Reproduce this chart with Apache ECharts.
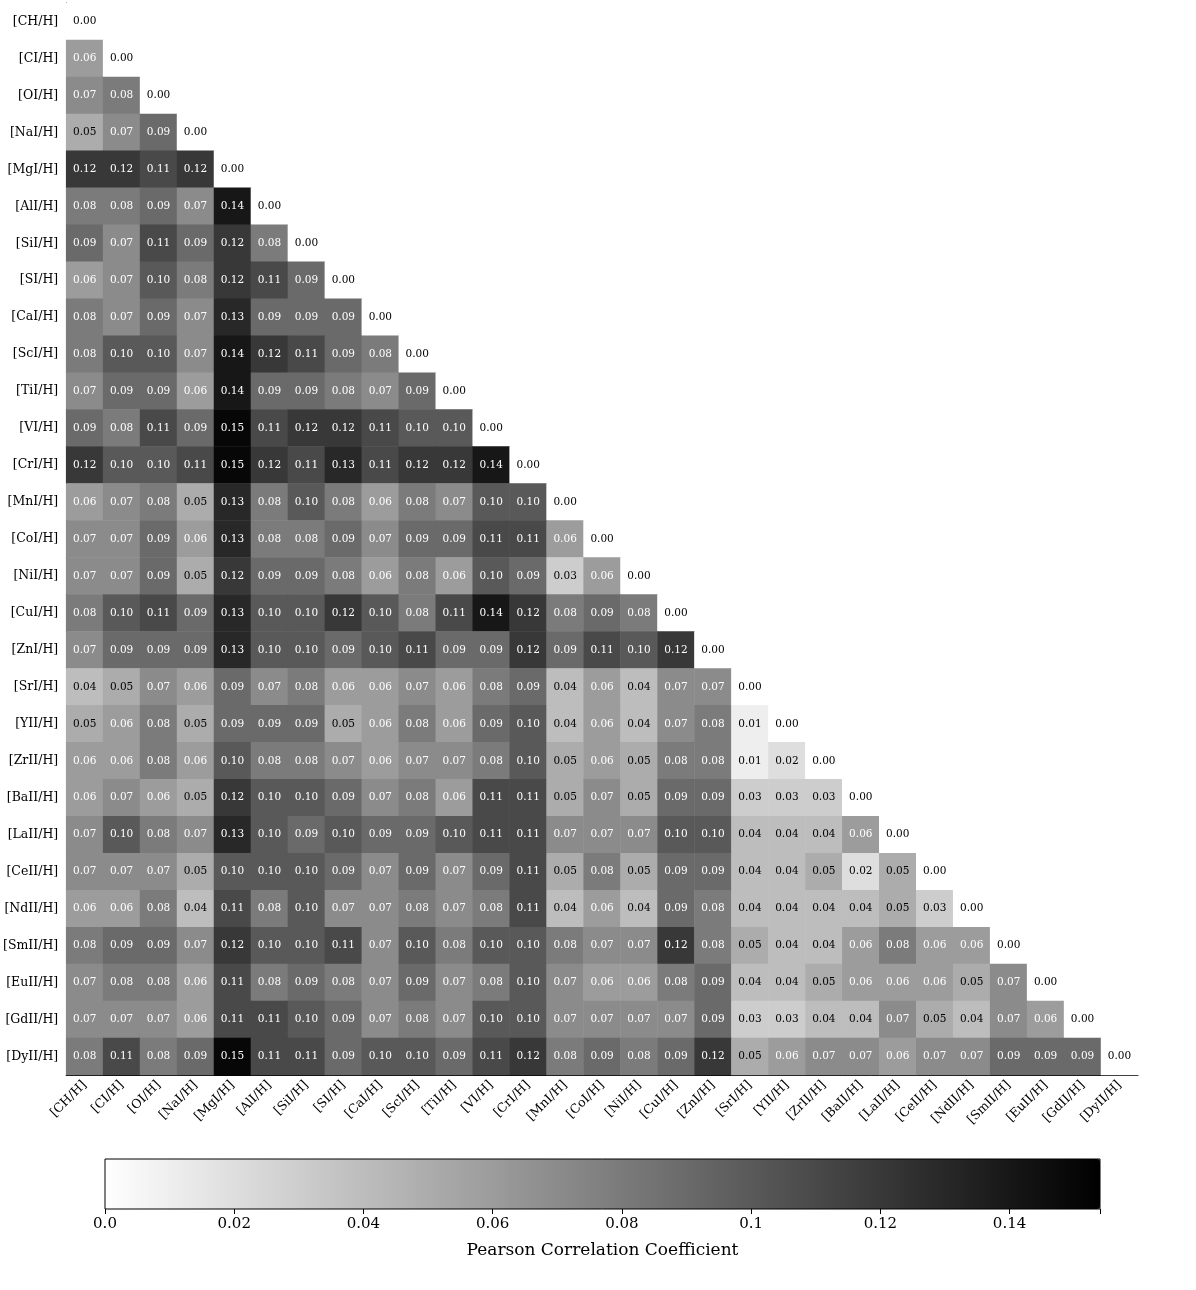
<!DOCTYPE html>
<html lang="en">
<head>
<meta charset="UTF-8">
<title>Pearson Correlation Heatmap</title>
<script src="https://cdn.jsdelivr.net/npm/echarts@6/dist/echarts.min.js"></script>
<style>html,body{margin:0;padding:0;background:#fff;}</style>
</head>
<body>
<div id="main" style="width:1196px;height:1290px;"></div>
<script>
var elements = ['[CH/H]','[CI/H]','[OI/H]','[NaI/H]','[MgI/H]','[AlI/H]','[SiI/H]','[SI/H]','[CaI/H]','[ScI/H]',
  '[TiI/H]','[VI/H]','[CrI/H]','[MnI/H]','[CoI/H]','[NiI/H]','[CuI/H]','[ZnI/H]','[SrI/H]','[YII/H]',
  '[ZrII/H]','[BaII/H]','[LaII/H]','[CeII/H]','[NdII/H]','[SmII/H]','[EuII/H]','[GdII/H]','[DyII/H]'];

// lower triangle, row i has i+1 values
var rows = [
  [0],
  [0.06,0],
  [0.07,0.08,0],
  [0.05,0.07,0.09,0],
  [0.12,0.12,0.11,0.12,0],
  [0.08,0.08,0.09,0.07,0.14,0],
  [0.09,0.07,0.11,0.09,0.12,0.08,0],
  [0.06,0.07,0.10,0.08,0.12,0.11,0.09,0],
  [0.08,0.07,0.09,0.07,0.13,0.09,0.09,0.09,0],
  [0.08,0.10,0.10,0.07,0.14,0.12,0.11,0.09,0.08,0],
  [0.07,0.09,0.09,0.06,0.14,0.09,0.09,0.08,0.07,0.09,0],
  [0.09,0.08,0.11,0.09,0.15,0.11,0.12,0.12,0.11,0.10,0.10,0],
  [0.12,0.10,0.10,0.11,0.15,0.12,0.11,0.13,0.11,0.12,0.12,0.14,0],
  [0.06,0.07,0.08,0.05,0.13,0.08,0.10,0.08,0.06,0.08,0.07,0.10,0.10,0],
  [0.07,0.07,0.09,0.06,0.13,0.08,0.08,0.09,0.07,0.09,0.09,0.11,0.11,0.06,0],
  [0.07,0.07,0.09,0.05,0.12,0.09,0.09,0.08,0.06,0.08,0.06,0.10,0.09,0.03,0.06,0],
  [0.08,0.10,0.11,0.09,0.13,0.10,0.10,0.12,0.10,0.08,0.11,0.14,0.12,0.08,0.09,0.08,0],
  [0.07,0.09,0.09,0.09,0.13,0.10,0.10,0.09,0.10,0.11,0.09,0.09,0.12,0.09,0.11,0.10,0.12,0],
  [0.04,0.05,0.07,0.06,0.09,0.07,0.08,0.06,0.06,0.07,0.06,0.08,0.09,0.04,0.06,0.04,0.07,0.07,0],
  [0.05,0.06,0.08,0.05,0.09,0.09,0.09,0.05,0.06,0.08,0.06,0.09,0.10,0.04,0.06,0.04,0.07,0.08,0.01,0],
  [0.06,0.06,0.08,0.06,0.10,0.08,0.08,0.07,0.06,0.07,0.07,0.08,0.10,0.05,0.06,0.05,0.08,0.08,0.01,0.02,0],
  [0.06,0.07,0.06,0.05,0.12,0.10,0.10,0.09,0.07,0.08,0.06,0.11,0.11,0.05,0.07,0.05,0.09,0.09,0.03,0.03,0.03,0],
  [0.07,0.10,0.08,0.07,0.13,0.10,0.09,0.10,0.09,0.09,0.10,0.11,0.11,0.07,0.07,0.07,0.10,0.10,0.04,0.04,0.04,0.06,0],
  [0.07,0.07,0.07,0.05,0.10,0.10,0.10,0.09,0.07,0.09,0.07,0.09,0.11,0.05,0.08,0.05,0.09,0.09,0.04,0.04,0.05,0.02,0.05,0],
  [0.06,0.06,0.08,0.04,0.11,0.08,0.10,0.07,0.07,0.08,0.07,0.08,0.11,0.04,0.06,0.04,0.09,0.08,0.04,0.04,0.04,0.04,0.05,0.03,0],
  [0.08,0.09,0.09,0.07,0.12,0.10,0.10,0.11,0.07,0.10,0.08,0.10,0.10,0.08,0.07,0.07,0.12,0.08,0.05,0.04,0.04,0.06,0.08,0.06,0.06,0],
  [0.07,0.08,0.08,0.06,0.11,0.08,0.09,0.08,0.07,0.09,0.07,0.08,0.10,0.07,0.06,0.06,0.08,0.09,0.04,0.04,0.05,0.06,0.06,0.06,0.05,0.07,0],
  [0.07,0.07,0.07,0.06,0.11,0.11,0.10,0.09,0.07,0.08,0.07,0.10,0.10,0.07,0.07,0.07,0.07,0.09,0.03,0.03,0.04,0.04,0.07,0.05,0.04,0.07,0.06,0],
  [0.08,0.11,0.08,0.09,0.15,0.11,0.11,0.09,0.10,0.10,0.09,0.11,0.12,0.08,0.09,0.08,0.09,0.12,0.05,0.06,0.07,0.07,0.06,0.07,0.07,0.09,0.09,0.09,0]
];
var colorMax = 0.154;
var cbTicks = [0, 0.02, 0.04, 0.06, 0.08, 0.1, 0.12, 0.14];

var font = 'DejaVu Serif';
var data = [];
rows.forEach(function (r, i) {
  r.forEach(function (v, j) {
    data.push({
      value: [j, i, v],
      label: { color: v > 0.055 ? '#ffffff' : '#000000' }
    });
  });
});

var myChart = echarts.init(document.getElementById('main'));
myChart.setOption({
  animation: false,
  textStyle: { fontFamily: font },
  grid: [
    { left: 66, top: 3, width: 1072, height: 1072 },
    { left: 105, top: 1159, width: 995, height: 50 }
  ],
  xAxis: [{
    gridIndex: 0,
    type: 'category',
    data: elements,
    axisLine: { lineStyle: { color: '#000' } },
    axisTick: { alignWithLabel: true, lineStyle: { color: '#000' } },
    axisLabel: { rotate: 45, interval: 0, color: '#000', fontFamily: font, fontSize: 12.5, margin: 8 },
    splitArea: { show: false }
  }, {
    gridIndex: 1,
    type: 'value',
    min: 0,
    max: colorMax,
    interval: 0.02,
    axisLine: { show: false },
    axisTick: { show: true, length: 5, lineStyle: { color: '#000' } },
    axisLabel: {
      color: '#000', fontFamily: font, fontSize: 15, margin: 8,
      formatter: function (v) {
        var r = Math.round(v * 100) / 100;
        if (cbTicks.indexOf(r) < 0) return '';
        return r === 0 ? '0.0' : String(r);
      }
    },
    splitLine: { show: false },
    name: 'Pearson Correlation Coefficient',
    nameLocation: 'middle',
    nameGap: 33,
    nameTextStyle: { color: '#000', fontFamily: font, fontSize: 17 }
  }],
  yAxis: [{
    gridIndex: 0,
    type: 'category',
    data: elements,
    inverse: true,
    axisLine: { lineStyle: { color: '#000' } },
    axisTick: { alignWithLabel: true, lineStyle: { color: '#000' } },
    axisLabel: { interval: 0, color: '#000', fontFamily: font, fontSize: 12.5, margin: 8 }
  }, {
    gridIndex: 1,
    type: 'value',
    show: false
  }],
  visualMap: {
    type: 'continuous',
    seriesIndex: 0,
    min: 0,
    max: colorMax,
    orient: 'horizontal',
    left: 105,
    top: 1159,
    itemWidth: 50,
    itemHeight: 995,
    padding: 0,
    calculable: false,
    showLabel: false,
    text: null,
    inRange: { color: ['#ffffff', '#000000'] }
  },
  graphic: [{
    type: 'rect',
    shape: { x: 105, y: 1159, width: 995, height: 50 },
    style: { fill: 'none', stroke: '#000', lineWidth: 1 },
    z: 100
  }],
  series: [{
    type: 'heatmap',
    xAxisIndex: 0,
    yAxisIndex: 0,
    data: data,
    label: {
      show: true,
      fontFamily: font,
      fontSize: 10.5,
      formatter: function (p) { return p.value[2].toFixed(2); }
    },
    itemStyle: { borderWidth: 0 }
  }]
});
</script>
</body>
</html>
